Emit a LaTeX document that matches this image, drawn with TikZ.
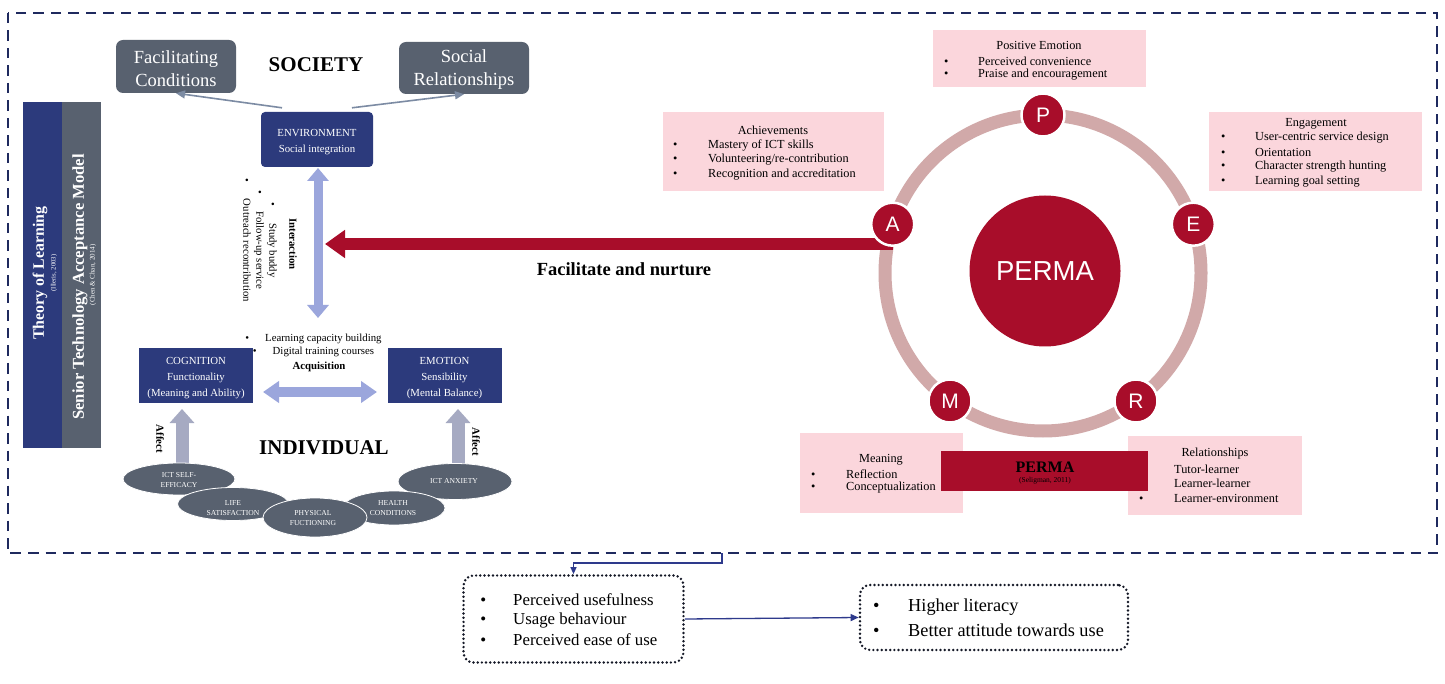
\documentclass[tikz,border=0pt]{standalone}
\usepackage{fontspec}
\setmainfont{Liberation Serif}
\newfontfamily\arialf{Liberation Sans}
\usetikzlibrary{arrows.meta,calc}
\definecolor{navyb}{HTML}{1F2A5E}
\definecolor{navybox}{HTML}{2C3A7C}
\definecolor{slate}{HTML}{58616F}
\definecolor{peri}{HTML}{9BA6DC}
\definecolor{affc}{HTML}{A6AAC2}
\definecolor{crim}{HTML}{A80D2A}
\definecolor{ringc}{HTML}{D1A9A9}
\definecolor{pinkb}{HTML}{FBD6DC}
\definecolor{grayarr}{HTML}{7C8BA3}
\definecolor{linkc}{HTML}{2E3A8C}
\definecolor{dotc}{HTML}{141826}
\newcommand\fs[2]{\fontsize{#1}{#2}\selectfont}
\newcommand\bl[2]{\makebox[#1][l]{•}#2}
\begin{document}
\begin{tikzpicture}[x=1pt,y=-1pt,
  gbox/.style={fill=slate, rounded corners=7pt, inner sep=0pt},
  gtxt/.style={text=white, align=center, inner sep=0pt, font=\fs{18.5}{22.5}},
  nbox/.style={fill=navybox, inner sep=0pt},
  ntxt/.style={text=white, align=center, inner sep=0pt, font=\fs{10.8}{16}},
  pbox/.style={fill=pinkb, inner sep=0pt},
  pc/.style={circle, fill=crim, draw=white, line width=2.5pt, minimum size=43pt, inner sep=0pt, text=white, font=\arialf\fs{21}{24}},
  lt/.style={anchor=west, inner sep=0pt, font=\fs{12.3}{14}},
  bu/.style={inner sep=0pt, font=\fs{12.3}{14}},
  lb/.style={anchor=west, inner sep=0pt, font=\fs{16.8}{19}},
  lc/.style={anchor=west, inner sep=0pt, font=\fs{18.3}{21}},
  ell/.style={fill=slate, draw=white, line width=0.8pt},
  etxt/.style={text=white, align=center, inner sep=0pt, font=\fs{7.6}{10}},
  dotbox/.style={draw=dotc, line width=2.7pt, dash pattern=on 0pt off 4.2pt, line cap=round, rounded corners=10pt, inner sep=0pt},
  link/.style={linkc, line width=1.3pt},
  dbl/.style={peri, line width=10pt},
]
\fill[white] (0,0) rectangle (1445,684);
\useasboundingbox (0,0) rectangle (1445,684);

% outer dashed frame
\draw[navyb, line width=2.7pt, dash pattern=on 10.5pt off 7pt] (8,13) rectangle (1437,553);

% left bars
\node[fill=navybox, minimum width=39pt, minimum height=346pt, inner sep=0pt] (tolbar) at (42.5,275) {};
\node[fill=slate, minimum width=39pt, minimum height=346pt, inner sep=0pt] (stambar) at (81.5,275) {};
\node[rotate=90, text=white, inner sep=0pt, font=\bfseries\fs{15.9}{18}] (tol) at (40,273) {Theory of Learning};
\node[rotate=90, text=white, inner sep=0pt, font=\fs{6.7}{8}] (tolc) at (54,273) {(Illeris, 2003)};
\node[rotate=90, text=white, inner sep=0pt, font=\bfseries\fs{16.6}{18}] (stam) at (80,287) {Senior Technology Acceptance Model};
\node[rotate=90, text=white, inner sep=0pt, font=\fs{7}{8}] (stamc) at (93,275) {(Chen \& Chan, 2014)};

% society
\node[gbox, minimum width=120pt, minimum height=53pt] (fc) at (176,66.5) {};
\node[gtxt] (fct) at (176,68.5) {Facilitating\\Conditions};
\node[gbox, minimum width=130pt, minimum height=52pt] (sr) at (464,68) {};
\node[gtxt] (srt) at (464,69.5) {Social\\Relationships};
\node[inner sep=0pt, font=\bfseries\fs{21}{24}] (soc) at (316,65) {SOCIETY};
\node[nbox, rounded corners=4pt, minimum width=112pt, minimum height=55pt] (env) at (317,139.5) {};
\node[ntxt] (envt) at (317,142) {ENVIRONMENT\\Social integration};
\coordinate (envl) at ($(env.north)+(-35,-4)$);
\coordinate (envr) at ($(env.north)+(35,-4)$);
\draw[grayarr, line width=1.6pt, -{Triangle[length=9pt,width=8pt]}] (envl) -- (fc.south);
\draw[grayarr, line width=1.6pt, -{Triangle[length=9pt,width=8pt]}] (envr) -- (sr.south);

% interaction arrow
\coordinate (intt) at (318,168);
\coordinate (intb) at (318,318);
\draw[dbl, line width=9pt, {Triangle[length=13pt,width=21pt]}-{Triangle[length=13pt,width=21pt]}] (intt) -- (intb);
\node[rotate=-90, inner sep=0pt, font=\bfseries\fs{10.8}{13}] (inter) at (293,244) {Interaction};
\node[rotate=-90, align=center, inner sep=0pt, font=\fs{10.75}{13}] (intl) at (260,240) {•\hspace{17pt}Study buddy\\•\hspace{17pt}Follow-up service\\•\hspace{17pt}Outreach recontribution};

% individual
\node[nbox, minimum width=114pt, minimum height=55pt] (cog) at (196,375.5) {};
\node[ntxt] (cogt) at (196,378) {COGNITION\\Functionality\\(Meaning and Ability)};
\node[nbox, minimum width=114pt, minimum height=55pt] (emo) at (444.5,375.5) {};
\node[ntxt] (emot) at (444.5,378) {EMOTION\\Sensibility\\(Mental Balance)};
\node[align=center, inner sep=0pt, font=\fs{10.8}{13}] (acql) at (313.5,345.5) {•\hspace{16pt}Learning capacity building\\•\hspace{16pt}Digital training courses};
\node[inner sep=0pt, font=\bfseries\fs{10.8}{13}] (acq) at (319,367) {Acquisition};
\coordinate (acl) at (263,392);
\coordinate (acr) at (377,392);
\draw[dbl, {Triangle[length=16pt,width=21pt]}-{Triangle[length=16pt,width=21pt]}] (acl) -- (acr);

\coordinate (afl0) at (182,470);
\coordinate (afl1) at (182,409);
\coordinate (afr0) at (458,470);
\coordinate (afr1) at (458,409);
\draw[affc, line width=13pt, -{Triangle[length=14pt,width=24pt]}] (afl0) -- (afl1);
\draw[affc, line width=13pt, -{Triangle[length=14pt,width=24pt]}] (afr0) -- (afr1);
\node[rotate=-90, inner sep=0pt, font=\bfseries\fs{10.8}{13}] (affl) at (160,439) {Affect};
\node[rotate=-90, inner sep=0pt, font=\bfseries\fs{10.8}{13}] (affr) at (476,442) {Affect};
\node[inner sep=0pt, font=\bfseries\fs{21}{24}] (indiv) at (324,448) {INDIVIDUAL};

\draw[ell] (179,479) ellipse[x radius=56, y radius=16];
\draw[ell] (455,481.5) ellipse[x radius=57, y radius=18];
\draw[ell] (233,504) ellipse[x radius=55.5, y radius=16.5];
\draw[ell] (394,508) ellipse[x radius=51, y radius=17];
\draw[ell] (315,517.5) ellipse[x radius=52, y radius=19.5];
\node[etxt] (e1) at (179,480) {ICT SELF-\\EFFICACY};
\node[etxt] (e2) at (233,508) {LIFE\\SATISFACTION};
\node[etxt] (e3) at (313,518.5) {PHYSICAL\\FUCTIONING};
\node[etxt] (e4) at (393,508) {HEALTH\\CONDITIONS};
\node[etxt] (e5) at (454,481) {ICT ANXIETY};

% PERMA pink boxes
\node[pbox, minimum width=213pt, minimum height=57pt] (pe) at (1039.5,58.5) {};
\node[bu] at (1039,45) {Positive Emotion};
\node[lt] at (943.85,61) {\bl{34.15pt}{Perceived convenience}};
\node[lt] at (943.85,75) {\bl{34.15pt}{Praise and encouragement}};

\node[pbox, minimum width=221pt, minimum height=79pt] (ach) at (773.5,151.5) {};
\node[bu] at (773,130) {Achievements};
\node[lt] at (672.85,146) {\bl{35.15pt}{Mastery of ICT skills}};
\node[lt] at (672.85,160) {\bl{35.15pt}{Volunteering/re-contribution}};
\node[lt] at (672.85,175) {\bl{35.15pt}{Recognition and accreditation}};

\node[pbox, minimum width=213pt, minimum height=79pt] (eng) at (1315.5,151.5) {};
\node[bu] at (1316,123.5) {Engagement};
\node[lt] at (1220.85,138) {\bl{34.15pt}{User-centric service design}};
\node[lt] at (1220.85,152) {\bl{34.15pt}{Orientation}};
\node[lt] at (1220.85,167) {\bl{34.15pt}{Character strength hunting}};
\node[lt] at (1220.85,182) {\bl{34.15pt}{Learning goal setting}};

\node[pbox, minimum width=163pt, minimum height=80pt] (mea) at (881.5,473) {};
\node[bu] at (881,459.5) {Meaning};
\node[lt] at (810.85,474) {\bl{35.15pt}{Reflection}};
\node[lt] at (810.85,488) {\bl{35.15pt}{Conceptualization}};

\node[pbox, minimum width=174pt, minimum height=79pt] (rel) at (1215,475.5) {};
\node[bu] at (1215,454) {Relationships};
\node[lt] at (1174,469) {Tutor-learner};
\node[lt] at (1174,483) {Learner-learner};
\node[lt] at (1138.85,498) {\bl{35.15pt}{Learner-environment}};

\node[fill=crim, minimum width=207pt, minimum height=40pt, inner sep=0pt] (pbox2) at (1044.5,471) {};
\node[inner sep=0pt, font=\bfseries\fs{16}{18}] at (1045,467) {PERMA};
\node[inner sep=0pt, font=\fs{7.5}{9}] at (1045,481) {(Seligman, 2011)};

% ring
\draw[ringc, line width=13pt] (1043,273) circle[radius=158];
\node[circle, fill=crim, minimum size=151pt, inner sep=0pt, text=white, font=\arialf\fs{27.5}{30}] (perma) at (1045,271) {PERMA};
\coordinate (redtip) at (325,244);
\coordinate (Ac) at (892.7,224.2);
\draw[crim, line width=11.5pt, -{Triangle[length=20pt,width=27pt]}] (Ac |- redtip) -- (redtip);
\node[inner sep=0pt, font=\bfseries\fs{18.5}{21}] (fn) at (624,269) {Facilitate and nurture};
\node[pc] (P) at (1043,115) {P};
\node[pc] (A) at (Ac) {A};
\node[pc] (E) at (1193.3,224.2) {E};
\node[pc] (M) at (950,401) {M};
\node[pc] (R) at (1136,401) {R};

% bottom boxes
\node[dotbox, minimum width=220pt, minimum height=87pt] (b1) at (573.5,619) {};
\node[lb] at (480.1,600) {\bl{32.9pt}{Perceived usefulness}};
\node[lb] at (480.1,620) {\bl{32.9pt}{Usage behaviour}};
\node[lb] at (480.1,640) {\bl{32.9pt}{Perceived ease of use}};

\node[dotbox, minimum width=268pt, minimum height=65pt] (b2) at (994,617.5) {};
\node[lc] at (872.8,607) {\bl{35.2pt}{Higher literacy}};
\node[lc] at (872.8,630) {\bl{35.2pt}{Better attitude towards use}};

\coordinate (bt) at (722,553);
\draw[link, -{Triangle[length=7pt,width=6pt]}] (bt) -- ++(0,10) -| (b1.north);
\draw[link, -{Triangle[length=8pt,width=7pt]}] (b1.east) -- (b2.west);
\end{tikzpicture}
\end{document}
